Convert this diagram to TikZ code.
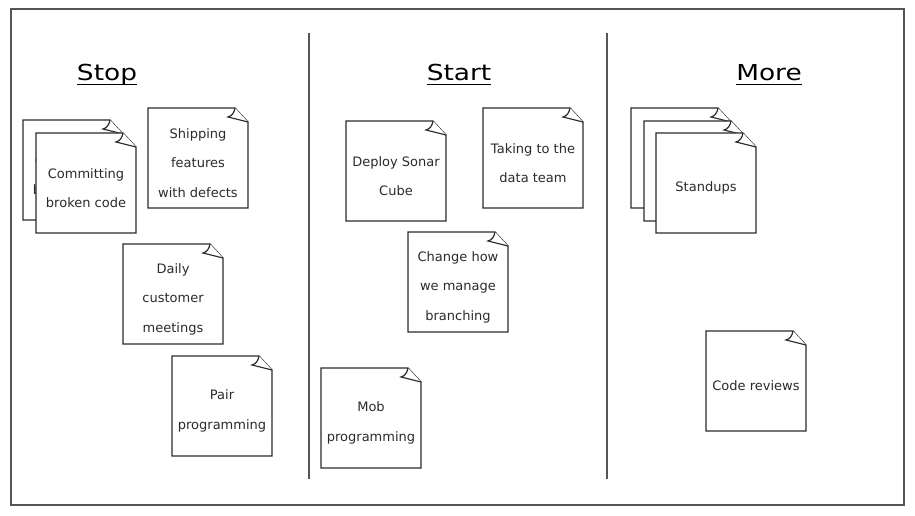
\documentclass[tikz,border=0pt]{standalone}
\usepackage{fontspec}
\usepackage{tikz}
\usepackage{xcolor}
\usetikzlibrary{calc}

\newfontfamily\notefont{DejaVu Sans}
\newfontfamily\titlefont[FakeStretch=1.2]{DejaVu Sans}

\definecolor{inkgray}{HTML}{2B2B2B}
\definecolor{framegray}{HTML}{555555}

\tikzset{
    noteline/.style={draw=inkgray, fill=white, line width=1.2pt, line join=miter},
    notetext/.style={inner sep=0pt, align=center, text=inkgray,
        font=\notefont\fontsize{13}{29.5}\selectfont},
    coltitle/.style={inner sep=0pt, anchor=base, text=black,
        font=\titlefont\fontsize{22}{26}\selectfont},
    uline/.style={draw=black, line width=1.5pt},
    divider/.style={draw=framegray, line width=1.3pt},
}

% sticky note: name, top-left corner, text
\newcommand{\stickynote}[3]{%
    \filldraw[noteline] ($(#2)+(0,100)$) -- (#2) -- ($(#2)+(87,0)$)
        -- ($(#2)+(100,14)$) -- ($(#2)+(100,100)$) -- cycle;
    \draw[noteline] ($(#2)+(87,0)$) .. controls ($(#2)+(86,5)$) and ($(#2)+(84,8)$) .. ($(#2)+(80,9)$)
        -- ($(#2)+(100,14)$);
    \node[notetext] (#1) at ($(#2)+(50,55)$) {#3};
}

\begin{document}
\begin{tikzpicture}[x=1pt, y=-1pt]
    \useasboundingbox (0,0) rectangle (915,516);

    % board
    \coordinate (boardnw) at (11,9);
    \coordinate (boardse) at (904,505);
    \draw[divider] (boardnw) rectangle (boardse);
    \coordinate (div1top) at (309,33);
    \coordinate (div1bot) at (309,479);
    \coordinate (div2top) at (607,33);
    \coordinate (div2bot) at (607,479);
    \draw[divider] (div1top) -- (div1bot);
    \draw[divider] (div2top) -- (div2bot);

    % column titles
    \node[coltitle] (stop) at (107,81) {Stop};
    \node[coltitle] (start) at (459,81) {Start};
    \node[coltitle] (more) at (769,81) {More};
    \foreach \col in {stop,start,more}
        \draw[uline] ([yshift=-3.5]\col.base west) -- ([yshift=-3.5]\col.base east);

    % stop
    \stickynote{commitback}{23,120}{Committing\\broken code}
    \stickynote{commit}{36,133}{Committing\\broken code}
    \stickynote{shipping}{148,108}{Shipping\\features\\with defects}
    \stickynote{daily}{123,244}{Daily\\customer\\meetings}
    \stickynote{pair}{172,356}{Pair\\programming}

    % start
    \stickynote{sonar}{346,121}{Deploy Sonar\\Cube}
    \stickynote{datateam}{483,108}{Taking to the\\data team}
    \stickynote{branching}{408,232}{Change how\\we manage\\branching}
    \stickynote{mob}{321,368}{Mob\\programming}

    % more
    \stickynote{standupsa}{631,108}{}
    \stickynote{standupsb}{644,121}{}
    \stickynote{standups}{656,133}{Standups}
    \stickynote{reviews}{706,331}{Code reviews}
\end{tikzpicture}
\end{document}
